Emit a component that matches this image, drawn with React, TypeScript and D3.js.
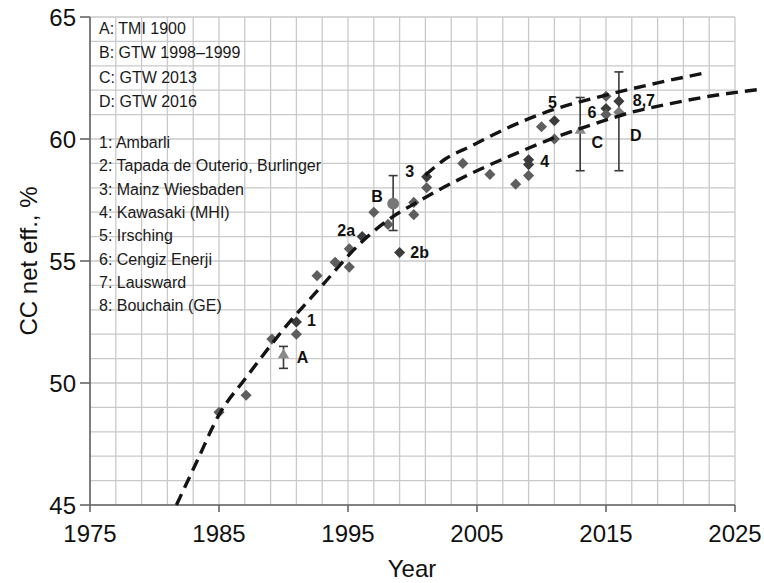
import React from "react";
import * as d3 from "d3";

// ---- data ----
const xTickValues = [1975, 1985, 1995, 2005, 2015, 2025];
const yTickValues = [45, 50, 55, 60, 65];

const legendReferences = ["A: TMI 1900", "B: GTW 1998–1999", "C: GTW 2013", "D: GTW 2016"];
const legendPlants = [
  "1: Ambarli",
  "2: Tapada de Outerio, Burlinger",
  "3: Mainz Wiesbaden",
  "4: Kawasaki (MHI)",
  "5: Irsching",
  "6: Cengiz Enerji",
  "7: Lausward",
  "8: Bouchain (GE)",
];

// Individual combined-cycle plants (commissioning year, net efficiency %)
const plantYears = [
  1985.0, 1987.1, 1989.1, 1991.0, 1991.0, 1992.6, 1994.0, 1995.1, 1995.1, 1996.1,
  1997.0, 1998.1, 1999.0, 2000.1, 2000.1, 2001.1, 2001.1, 2003.9, 2006.0, 2008.0,
  2009.0, 2009.0, 2009.0, 2010.0, 2011.0, 2011.0, 2015.0, 2015.0, 2015.0, 2016.0,
];
const plantEff = [
  48.8, 49.5, 51.8, 52.5, 52.0, 54.4, 54.95, 54.75, 55.5, 56.0,
  57.0, 56.5, 55.35, 57.4, 56.9, 58.45, 58.0, 59.0, 58.55, 58.15,
  58.5, 59.15, 58.95, 60.5, 60.75, 60.0, 61.75, 61.25, 61.0, 61.55,
];
// Reference number of the named plants ("" = unnamed)
const plantRefs = [
  "", "", "", "1", "", "", "", "", "", "2a",
  "", "", "2b", "", "", "3", "", "", "", "",
  "", "4", "4", "", "5", "", "", "6", "", "8,7",
];

// Gas turbine world reference values with ranges
const refKeys = ["A", "B", "C", "D"];
const refYears = [1990.0, 1998.5, 2013.0, 2016.0];
const refEff = [51.15, 57.35, 60.35, 61.1];
const refLow = [50.6, 56.25, 58.7, 58.7];
const refHigh = [51.5, 58.5, 61.7, 62.75];

// Trend curves
const trendLowYears = [1981.7, 1983.3, 1985.0, 1987.0, 1990.0, 1993.0, 1996.0, 1999.0, 2000.0, 2002.0, 2005.0, 2008.0, 2011.0, 2014.0, 2017.0, 2020.0, 2023.0, 2027.2];
const trendLowEff = [45.0, 46.8, 48.7, 50.15, 52.2, 54.0, 55.75, 57.0, 57.3, 57.9, 58.7, 59.4, 60.05, 60.6, 61.1, 61.45, 61.75, 62.05];
const trendHighYears = [2001.0, 2002.6, 2004.5, 2007.3, 2010.9, 2015.0, 2019.0, 2022.6];
const trendHighEff = [58.52, 59.2, 59.7, 60.44, 61.2, 61.8, 62.3, 62.7];

// ---- layout ----
const W = 764;
const H = 583;
const plot = { left: 90, right: 735, top: 17, bottom: 505 };
const FONT = "'Liberation Sans', Arial, Helvetica, sans-serif";

const labelOffsets: Record<string, [number, number]> = {
  "1": [15, -2],
  "2a": [-16, -7],
  "2b": [20, 0],
  "3": [-17, -6],
  "4": [16, 1],
  "5": [-2, -19],
  "6": [-14, 3],
  "8,7": [25, -1],
  A: [19, 2],
  B: [-16, -8],
  C: [17, 12],
  D: [17, 23],
};

const refShapes: Record<string, { type: d3.SymbolType; size: number; fill: string; rot: number }> = {
  A: { type: d3.symbolTriangle, size: 55, fill: "#8a8a8a", rot: 0 },
  B: { type: d3.symbolCircle, size: 110, fill: "#777777", rot: 0 },
  C: { type: d3.symbolTriangle, size: 55, fill: "#8a8a8a", rot: 0 },
  D: { type: d3.symbolSquare, size: 62, fill: "#7a7a7a", rot: 45 },
};

export default function App() {
  const x = d3.scaleLinear().domain([1975, 2025]).range([plot.left, plot.right]);
  const y = d3.scaleLinear().domain([45, 65]).range([plot.bottom, plot.top]);

  const gridX = d3.range(1975, 2026, 2);
  const gridY = d3.range(45, 66, 1);

  const line = d3
    .line<[number, number]>()
    .x((d) => x(d[0]))
    .y((d) => y(d[1]))
    .curve(d3.curveMonotoneX);

  const lowPath = line(trendLowYears.map((yr, i) => [yr, trendLowEff[i]]));
  const highPath = line(trendHighYears.map((yr, i) => [yr, trendHighEff[i]]));

  const diamond = d3.symbol().type(d3.symbolSquare).size(62)();

  const seen = new Set<string>();
  const plantLabels: { text: string; px: number; py: number }[] = [];
  plantYears.forEach((yr, i) => {
    const r = plantRefs[i];
    if (r && !seen.has(r)) {
      seen.add(r);
      plantLabels.push({ text: r, px: x(yr), py: y(plantEff[i]) });
    }
  });

  return (
    <svg
      width={W}
      height={H}
      viewBox={`0 0 ${W} ${H}`}
      style={{ position: "absolute", left: 0, top: 0, background: "#fff" }}
      fontFamily={FONT}
    >
      <rect width={W} height={H} fill="#fff" />

      {/* grid */}
      <g stroke="#c9c9c9" strokeWidth={1.3}>
        {gridX.map((g) => (
          <line key={`gx${g}`} x1={x(g)} x2={x(g)} y1={plot.top} y2={plot.bottom} />
        ))}
        {gridY.map((g) => (
          <line key={`gy${g}`} x1={plot.left} x2={plot.right} y1={y(g)} y2={y(g)} />
        ))}
      </g>

      {/* axes */}
      <g stroke="#666" strokeWidth={1.6}>
        <line x1={plot.left} x2={plot.left} y1={plot.top} y2={plot.bottom} />
        <line x1={plot.left} x2={plot.right} y1={plot.bottom} y2={plot.bottom} />
        {yTickValues.map((t) => (
          <line key={`yt${t}`} x1={plot.left - 10} x2={plot.left} y1={y(t)} y2={y(t)} />
        ))}
        {xTickValues.map((t) => (
          <line key={`xt${t}`} x1={x(t)} x2={x(t)} y1={plot.bottom} y2={plot.bottom + 7} />
        ))}
      </g>
      <g fill="#111" fontSize={24}>
        {yTickValues.map((t) => (
          <text key={`yl${t}`} x={plot.left - 14} y={y(t) + 8.5} textAnchor="end">
            {t}
          </text>
        ))}
        {xTickValues.map((t) => (
          <text key={`xl${t}`} x={x(t)} y={542} textAnchor="middle">
            {t}
          </text>
        ))}
        <text x={412} y={577} textAnchor="middle">
          Year
        </text>
        <text transform={`translate(37, ${(plot.top + plot.bottom) / 2}) rotate(-90)`} textAnchor="middle">
          CC net eff., %
        </text>
      </g>

      {/* legend text */}
      <g fill="#1a1a1a" fontSize={16}>
        {legendReferences.map((s, i) => (
          <text key={s} x={99} y={34 + i * 24.4}>
            {s}
          </text>
        ))}
        {legendPlants.map((s, i) => (
          <text key={s} x={99} y={148 + i * 23.3}>
            {s}
          </text>
        ))}
      </g>

      {/* error bars */}
      <g stroke="#3a3a3a" strokeWidth={1.6}>
        {refKeys.map((k, i) => {
          const cx = x(refYears[i]);
          return (
            <g key={`eb${k}`}>
              <line x1={cx} x2={cx} y1={y(refLow[i])} y2={y(refHigh[i])} />
              <line x1={cx - 4.5} x2={cx + 4.5} y1={y(refLow[i])} y2={y(refLow[i])} />
              <line x1={cx - 4.5} x2={cx + 4.5} y1={y(refHigh[i])} y2={y(refHigh[i])} />
            </g>
          );
        })}
      </g>

      {/* plants */}
      <g>
        {plantYears.map((yr, i) => (
          <path
            key={`p${i}`}
            d={diamond || ""}
            transform={`translate(${x(yr)},${y(plantEff[i])}) rotate(45)`}
            fill={plantRefs[i] ? "#3c3c3c" : "#5e5e5e"}
          />
        ))}
      </g>

      {/* reference markers */}
      <g>
        {refKeys.map((k, i) => {
          const s = refShapes[k];
          const d = d3.symbol().type(s.type).size(s.size)();
          return (
            <path
              key={`r${k}`}
              d={d || ""}
              transform={`translate(${x(refYears[i])},${y(refEff[i])}) rotate(${s.rot})`}
              fill={s.fill}
            />
          );
        })}
      </g>

      {/* trend curves */}
      <g fill="none" stroke="#141414" strokeWidth={3.4} strokeDasharray="12 7">
        <path d={lowPath || ""} />
        <path d={highPath || ""} />
      </g>

      {/* point labels */}
      <g fill="#111" fontSize={16} fontWeight="bold" textAnchor="middle">
        {plantLabels.map((l) => {
          const o = labelOffsets[l.text];
          return (
            <text key={`l${l.text}`} x={l.px + o[0]} y={l.py + o[1] + 6}>
              {l.text}
            </text>
          );
        })}
        {refKeys.map((k, i) => {
          const o = labelOffsets[k];
          return (
            <text key={`rl${k}`} x={x(refYears[i]) + o[0]} y={y(refEff[i]) + o[1] + 6}>
              {k}
            </text>
          );
        })}
      </g>
    </svg>
  );
}
